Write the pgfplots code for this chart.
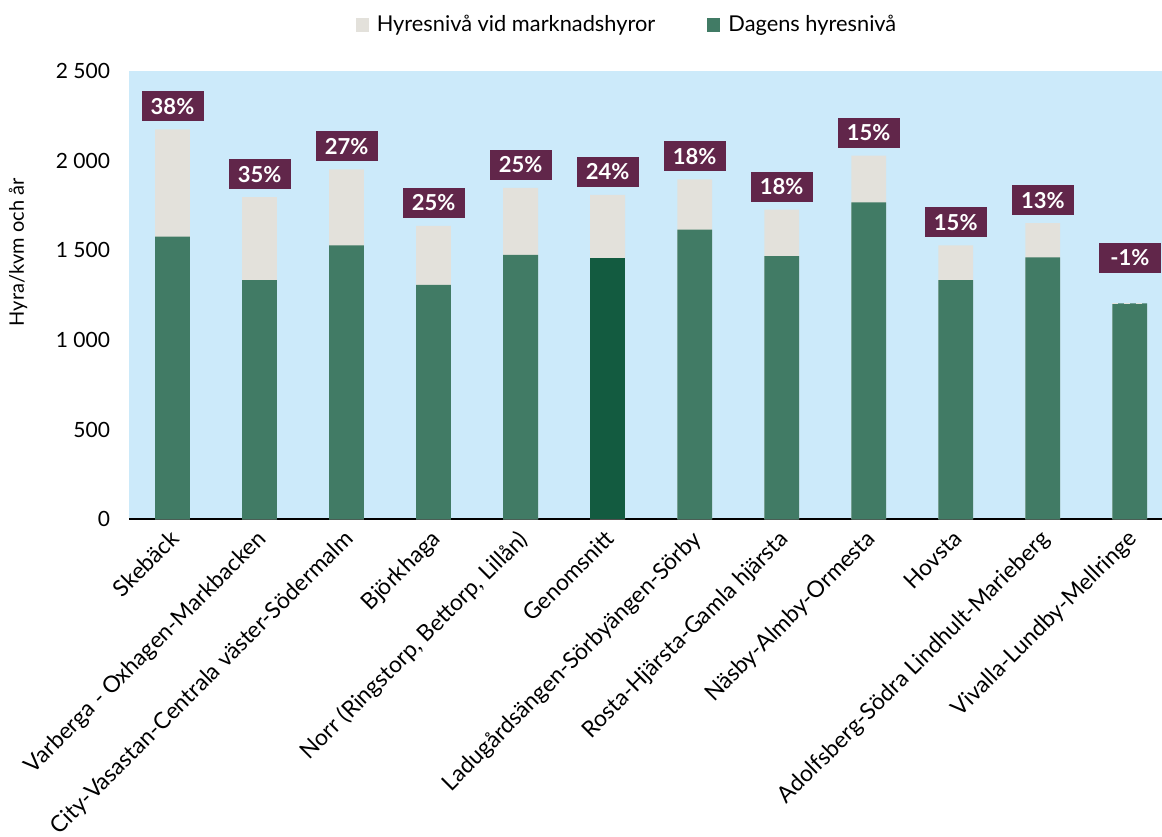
\documentclass[border=0pt]{standalone}
\usepackage{pgfplots}
\pgfplotsset{compat=1.18}
\usepackage{fontspec}
\setmainfont{Lato}
\definecolor{bgblue}{RGB}{204,234,250}
\definecolor{lightbar}{RGB}{227,225,219}
\definecolor{midgreen}{RGB}{65,123,101}
\definecolor{darkgreen}{RGB}{19,91,64}
\definecolor{labpurple}{RGB}{97,38,74}

\begin{document}
\begin{tikzpicture}
\path[use as bounding box] (-64.5pt,-158.35pt) rectangle (516.5pt,259.65pt);
\begin{axis}[
    at={(0pt,0pt)}, anchor=south west,
    scale only axis,
    width=516.5pt, height=224.15pt,
    xmin=-0.5, xmax=11.37,
    ymin=0, ymax=2500,
    axis background/.style={fill=bgblue},
    axis x line*=bottom, axis y line*=left,
    x axis line style={black, line width=1pt, -},
    y axis line style={draw=none},
    major tick length=0pt,
    ytick={0,500,1000,1500,2000,2500},
    yticklabels={0,500,1 000,1 500,2 000,2 500},
    yticklabel style={font=\fontsize{10.5}{12}\selectfont, xshift=-6pt},
    xtick={0,1,2,3,4,5,6,7,8,9,10,11},
    xticklabels={Skebäck,Varberga - Oxhagen-Markbacken,City-Vasastan-Centrala väster-Södermalm,Björkhaga,{Norr (Ringstorp, Bettorp, Lillån)},Genomsnitt,Ladugårdsängen-Sörbyängen-Sörby,Rosta-Hjärsta-Gamla hjärsta,Näsby-Almby-Ormesta,Hovsta,Adolfsberg-Södra Lindhult-Marieberg,Vivalla-Lundby-Mellringe},
    xticklabel style={rotate=45, anchor=north east, font=\fontsize{11.4}{13}\selectfont, inner sep=1pt, xshift=-3.5pt, yshift=-0.7pt},
    bar width=0.40,
    legend columns=2,
    legend style={at={(0.483,1)}, anchor=south, yshift=14pt, draw=none, fill=none,
        font=\fontsize{10.9}{12}\selectfont,
        /tikz/every odd column/.append style={column sep=2pt},
        /tikz/every even column/.append style={column sep=24pt}},
    legend image code/.code={\fill[#1] (0pt,-3.3pt) rectangle (6.6pt,3.3pt);},
    clip=false,
]
% marknadshyra (total)
\addplot[ybar, bar shift=0pt, fill=lightbar, draw=none] coordinates {
    (0,2175) (1,1796) (2,1952) (3,1637) (4,1848) (5,1809)
    (6,1896) (7,1727) (8,2028) (9,1528) (10,1652) (11,1192)
};
\addlegendentry{Hyresnivå vid marknadshyror}
% dagens hyra
\addplot[ybar, bar shift=0pt, fill=midgreen, draw=none] coordinates {
    (0,1576) (1,1334) (2,1528) (3,1307) (4,1474)
    (6,1615) (7,1467) (8,1768) (9,1334) (10,1461) (11,1204)
};
\addlegendentry{Dagens hyresnivå}
\addplot[ybar, bar shift=0pt, fill=darkgreen, draw=none, forget plot] coordinates {(5,1459)};
\addplot[lightbar, dashed, line width=0.8pt, forget plot] coordinates {(10.8,1204) (11.2,1204)};

\tikzset{pct/.style={fill=labpurple, text=white, font=\bfseries\fontsize{11}{12}\selectfont,
    minimum width=31pt, minimum height=15pt, inner sep=0pt, anchor=south, yshift=3.8pt}}
\node[pct] at (axis cs:0,2175) {38\%};
\node[pct] at (axis cs:1,1796) {35\%};
\node[pct] at (axis cs:2,1952) {27\%};
\node[pct] at (axis cs:3,1637) {25\%};
\node[pct] at (axis cs:4,1848) {25\%};
\node[pct] at (axis cs:5,1809) {24\%};
\node[pct] at (axis cs:6,1896) {18\%};
\node[pct] at (axis cs:7,1727) {18\%};
\node[pct] at (axis cs:8,2028) {15\%};
\node[pct] at (axis cs:9,1528) {15\%};
\node[pct] at (axis cs:10,1652) {13\%};
\node[pct] at (axis cs:11,1329) {-1\%};

\node[rotate=90, font=\fontsize{10}{12}\selectfont, yshift=55.5pt] at (rel axis cs:0,0.596) {Hyra/kvm och år};
\end{axis}
\end{tikzpicture}
\end{document}
